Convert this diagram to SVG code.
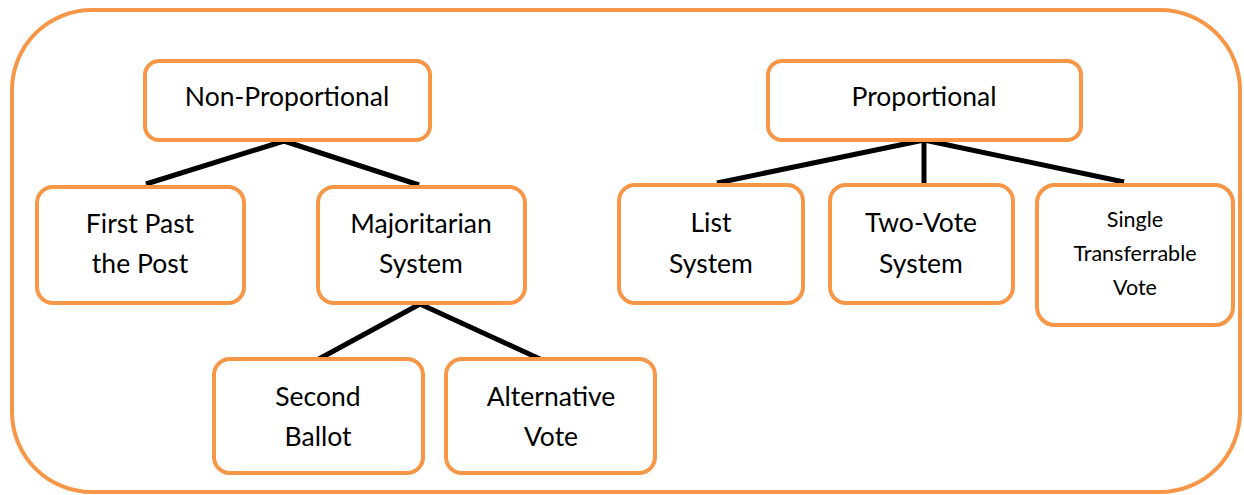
<svg xmlns="http://www.w3.org/2000/svg" width="1244" height="495" viewBox="0 0 1244 495">
<style>
.box{fill:#fff;stroke:#F79646;stroke-width:4}
.t{font-family:Lato,"Open Sans",sans-serif;font-size:26.5px;fill:#000;text-anchor:middle}
.s{font-size:21.5px}
.c line{stroke:#000;stroke-width:5;stroke-linecap:butt}
</style>
<rect x="12" y="10" width="1228" height="482" rx="80" fill="#fff" stroke="#F79646" stroke-width="4"/>
<g class="c" id="connectors">
<line x1="284" y1="141" x2="146" y2="184"/>
<line x1="284" y1="141" x2="419" y2="185"/>
<line x1="924" y1="140" x2="717" y2="183"/>
<line x1="924" y1="140" x2="924" y2="184"/>
<line x1="924" y1="140" x2="1124" y2="182"/>
<line x1="420" y1="304" x2="317" y2="360"/>
<line x1="420" y1="304" x2="540" y2="359"/>
</g>
<g id="n-nonprop"><rect class="box" x="145" y="61" width="285" height="79" rx="14"/><text class="t" x="287" y="106">Non-Proportional</text></g>
<g id="n-prop"><rect class="box" x="768" y="61" width="313" height="79" rx="14"/><text class="t" x="924" y="106">Proportional</text></g>
<g id="n-fptp"><rect class="box" x="37" y="187" width="207" height="116" rx="16"/><text class="t" x="140" y="233">First Past</text><text class="t" x="140" y="273">the Post</text></g>
<g id="n-maj"><rect class="box" x="318" y="187" width="207" height="116" rx="16"/><text class="t" x="421" y="233">Majoritarian</text><text class="t" x="421" y="273">System</text></g>
<g id="n-list"><rect class="box" x="619" y="185" width="184" height="118" rx="16"/><text class="t" x="711" y="232">List</text><text class="t" x="711" y="273">System</text></g>
<g id="n-two"><rect class="box" x="830" y="185" width="183" height="118" rx="16"/><text class="t" x="921" y="232">Two-Vote</text><text class="t" x="921" y="273">System</text></g>
<g id="n-stv"><rect class="box" x="1037" y="185" width="196" height="140" rx="18"/><text class="t s" x="1135" y="227">Single</text><text class="t s" x="1135" y="261">Transferrable</text><text class="t s" x="1135" y="295">Vote</text></g>
<g id="n-second"><rect class="box" x="214" y="359" width="209" height="114" rx="16"/><text class="t" x="318" y="406">Second</text><text class="t" x="318" y="446">Ballot</text></g>
<g id="n-alt"><rect class="box" x="446" y="359" width="209" height="114" rx="16"/><text class="t" x="551" y="406">Alternative</text><text class="t" x="551" y="446">Vote</text></g>
</svg>
